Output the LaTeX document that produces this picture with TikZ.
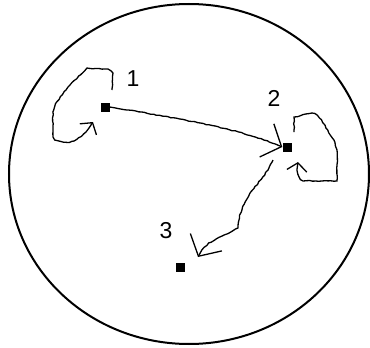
\documentclass[tikz,border=0pt]{standalone}
\usepackage{fontspec}
\setmainfont{Liberation Sans}
\usetikzlibrary{arrows.meta,decorations.pathmorphing}

\begin{document}
\pgfmathsetseed{11}
\begin{tikzpicture}[
  x=1pt, y=-1pt,
  state/.style={
    rectangle,
    fill=black,
    inner sep=0pt,
    minimum size=9pt
  },
  num/.style={inner sep=0pt, font=\fontsize{23}{26}\selectfont},
  hand/.style={
    draw, line width=1.3pt,
    decorate,
    decoration={random steps, segment length=3pt, amplitude=0.5pt,
                pre length=2pt, post length=8pt}
  },
  bigtip/.style={-{Straight Barb[length=16pt, width=36pt, line width=1.3pt]}},
  smalltip/.style={-{Straight Barb[length=8pt, width=20pt, line width=1.3pt]}}
]
\useasboundingbox (0,0) rectangle (370,348);
% the disc
\draw[line width=2pt] (189,174) ellipse [x radius=180, y radius=170];

% states
\node[state] (n1) at (105,107) {};
\node[state] (n2) at (287,147) {};
\node[state] (n3) at (180,267) {};
\node[num] (l1) at (133,79) {1};
\node[num] (l2) at (274,98) {2};
\node[num] (l3) at (166,231) {3};

% moves
\draw[hand, bigtip] (n1.east) .. controls (170,117) and (240,128) .. (n2.west);
\draw[hand, bigtip] ([shift={(-14,13)}]n2.center)
  .. controls (262,185) and (240,195) .. (238,228)
  .. controls (225,236) and (205,240) .. ([shift={(18,-10)}]n3.center);

% self loops
\draw[hand, smalltip] ([shift={(7,-17)}]n1.center) -- (113,73) -- (108,69)
  -- (87,68) .. controls (70,85) and (55,100) .. (53,112) -- (53,137)
  .. controls (55,142) and (68,143) .. (74,141)
  .. controls (82,137) and (88,130) .. ([shift={(-12,15)}]n1.center);
\draw[hand, smalltip] ([shift={(7,-15)}]n2.center) -- (294,117) -- (312,113)
  .. controls (322,116) and (325,128) .. (334,140) -- (337,150) -- (337,181)
  -- (303,181) .. controls (298,178) and (296,170) .. ([shift={(11,15)}]n2.center);
\end{tikzpicture}
\end{document}
